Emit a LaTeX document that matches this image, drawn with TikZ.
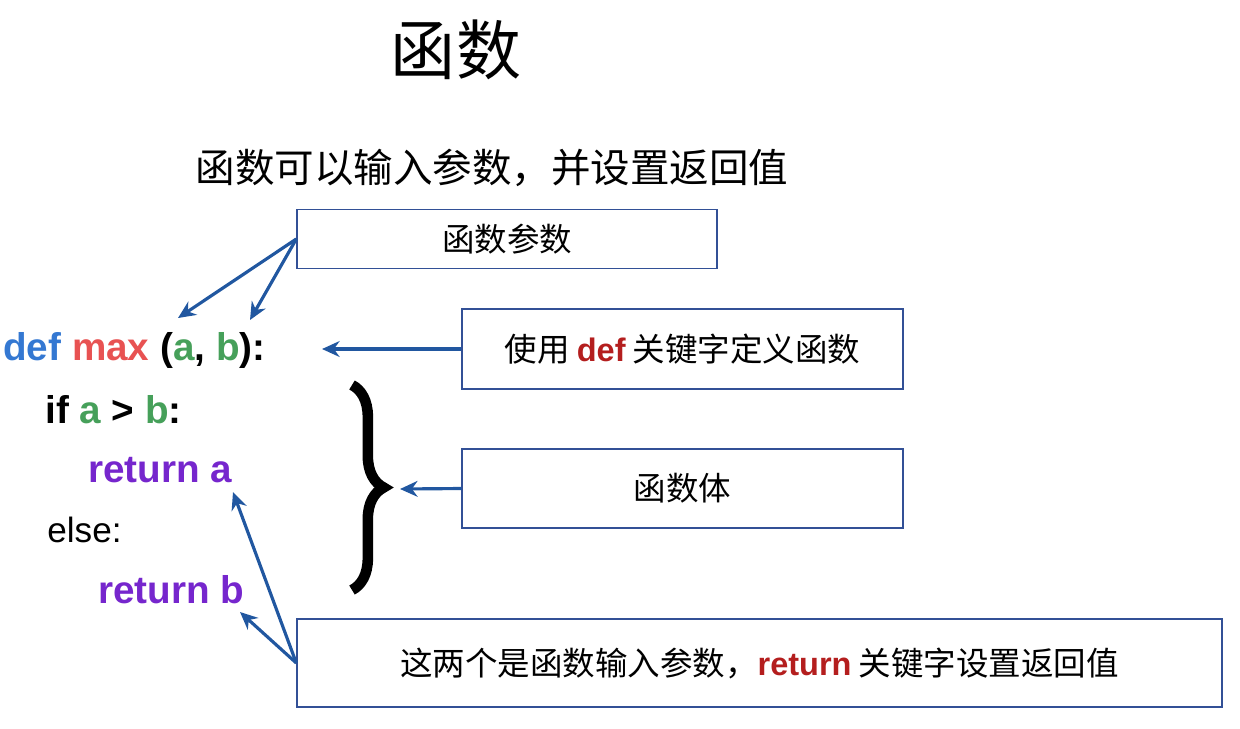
\documentclass[tikz,border=0pt]{standalone}
\usepackage{fontspec}
\setmainfont{Liberation Sans}
\newfontfamily\cjk{Noto Sans CJK SC}
\usetikzlibrary{arrows.meta,decorations.pathreplacing}
\definecolor{arr}{RGB}{33,87,160}
\definecolor{kwblue}{RGB}{52,120,210}
\definecolor{kwred}{RGB}{232,82,82}
\definecolor{kwgreen}{RGB}{70,160,90}
\definecolor{kwpurple}{RGB}{118,38,205}
\definecolor{dred}{RGB}{180,30,30}
\definecolor{boxc}{RGB}{50,80,150}
\begin{document}
\begin{tikzpicture}[x=0.02cm,y=-0.02cm,
  box/.style={draw=boxc,line width=0.8pt,inner sep=0,font=\cjk\fontsize{18.5}{22}\selectfont},
  code/.style={anchor=west,inner sep=0,font=\bfseries\fontsize{22}{26}\selectfont},
  conn/.style={draw=arr,line width=1.8pt,-{Stealth[length=10pt,width=9pt]}}]
\useasboundingbox (0,0) rectangle (1240,728);
\node (title) at (456,50) {\cjk\fontsize{37}{42}\selectfont 函数};
\node (sub) at (492,168) {\cjk\fontsize{22.5}{26}\selectfont 函数可以输入参数，并设置返回值};
\node[box,minimum width=420*0.02cm,minimum height=59*0.02cm] (b1) at (507,239) {函数参数};
\node[box,minimum width=441*0.02cm,minimum height=80*0.02cm] (b2) at (682.5,349) {使用 {\fontspec{Liberation Sans}\bfseries\color{dred}def} 关键字定义函数};
\node[box,minimum width=441*0.02cm,minimum height=79*0.02cm] (b3) at (682.5,488.5) {函数体};
\node[box,minimum width=925*0.02cm,minimum height=88*0.02cm] (b4) at (759.5,663) {这两个是函数输入参数，{\fontspec{Liberation Sans}\bfseries\color{dred}return} 关键字设置返回值};
\node[code] (l1) at (3,350) {\color{kwblue}def \color{kwred}max \color{black}(\color{kwgreen}a\color{black}, \color{kwgreen}b\color{black}):};
\node[code] (l2) at (45,410) {if \color{kwgreen}a \color{black}> \color{kwgreen}b\color{black}:};
\node[code,text=kwpurple] (l3) at (88,470) {return a};
\node[code,font=\fontsize{20}{24}\selectfont] (l4) at (47,530) {else:};
\node[code,text=kwpurple] (l5) at (98,590) {return b};
\coordinate (p1) at (178,318);
\coordinate (p2) at (250,320);
\coordinate (p3) at (233,492);
\coordinate (p4) at (240,612);
\coordinate (p5) at (322,349);
\coordinate (p6) at (400,489);
\draw[conn] (b1.west) -- (p1);
\draw[conn] (b1.west) -- (p2);
\draw[conn] (b4.west) -- (p3);
\draw[conn] (b4.west) -- (p4);
\draw[conn] (b2.west) -- (p5);
\draw[conn] (b3.west) -- (p6);
\draw[line width=6pt,decorate,decoration={brace,amplitude=18pt}] (352,385) -- (352,590);
\end{tikzpicture}
\end{document}
